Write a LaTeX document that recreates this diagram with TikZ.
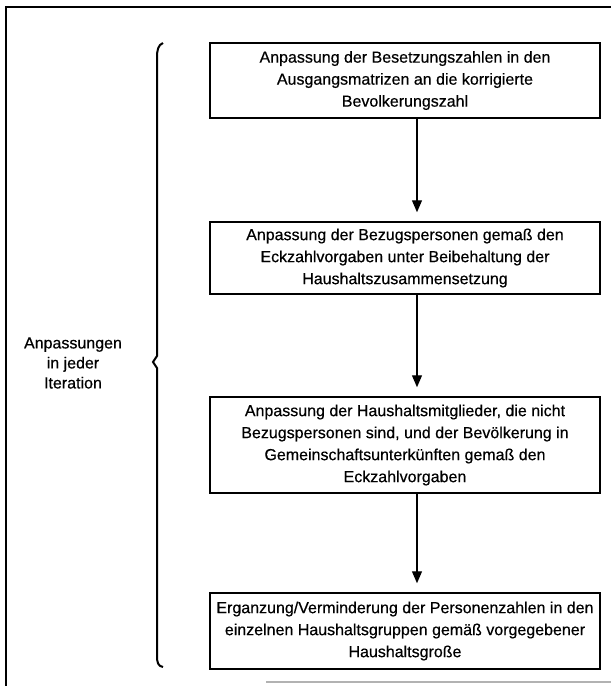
\documentclass[tikz,border=0pt]{standalone}
\usepackage{fontspec}
\setmainfont{Liberation Sans}[FakeBold=0.5]
\usetikzlibrary{arrows.meta}

\tikzset{
  stage/.style={draw, line width=1.5pt, minimum width=390pt, align=center,
    inner sep=2pt, font=\fontsize{16}{22}\selectfont},
  flow/.style={line width=1.2pt, -{Triangle[length=12pt,width=10pt]}, shorten >=9pt}
}

\begin{document}
\begin{tikzpicture}[x=1pt,y=1pt]
  \useasboundingbox (0,0) rectangle (611,-686);
  %\draw (6,-7) rectangle (611,-682);
  \draw [line width=1.5pt] (6,-686) -- (6,-7) -- (611,-7);
  \draw [gray!60, line width=1.5pt] (266,-682) -- (611,-682);
  \node[stage, minimum height=75pt] (s1) at (405,-80.5)
    {Anpassung der Besetzungszahlen in den\\Ausgangsmatrizen an die korrigierte\\Bevolkerungszahl};
  \node[stage, minimum height=72pt] (s2) at (405,-258)
    {Anpassung der Bezugspersonen gemaß den\\Eckzahlvorgaben unter Beibehaltung der\\Haushaltszusammensetzung};
  \node[stage, minimum height=96pt] (s3) at (405,-445)
    {Anpassung der Haushaltsmitglieder, die nicht\\Bezugspersonen sind, und der Bevölkerung in\\Gemeinschaftsunterkünften gemaß den\\Eckzahlvorgaben};
  \node[stage, minimum height=76pt] (s4) at (405,-631)
    {Erganzung/Verminderung der Personenzahlen in den\\einzelnen Haushaltsgruppen gemäß vorgegebener\\Haushaltsgroße};
  \foreach \a/\b in {s1/s2,s2/s3,s3/s4}
    \draw [flow] ([xshift=12pt]\a.south) -- ([xshift=12pt]\b.north);
  % brace over all stages
  \draw [line width=2pt] (163,-43) .. controls (158,-45) and (157,-50) .. (157,-58)
    -- (157,-356) -- (153,-362) -- (157,-368) -- (157,-655)
    .. controls (157,-663) and (158,-666) .. (163,-667);
  \node[align=center, font=\fontsize{16}{20}\selectfont] (iter) at (73,-363)
    {Anpassungen\\in jeder\\Iteration};
\end{tikzpicture}
\end{document}
